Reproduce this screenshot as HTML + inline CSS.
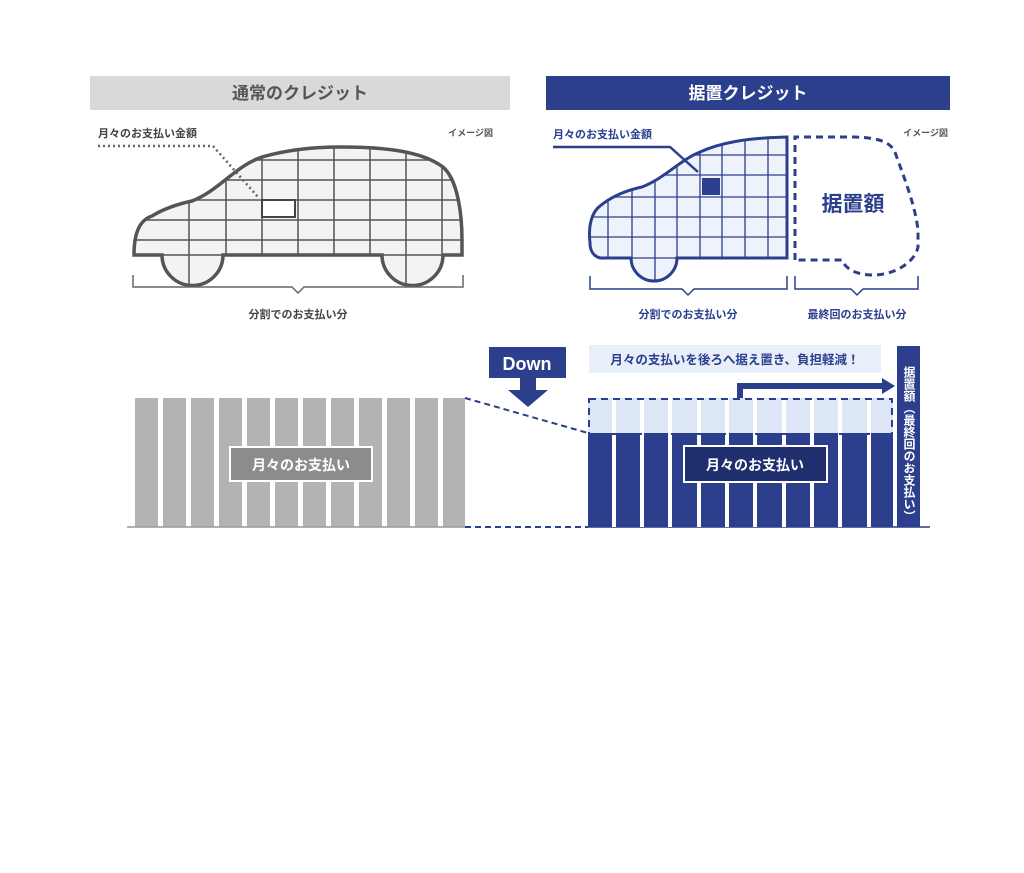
<!DOCTYPE html>
<html><head><meta charset="utf-8"><style>
html,body{margin:0;padding:0;background:#fff;}
svg{display:block;}
text{font-family:"Liberation Sans","Noto Sans CJK JP",sans-serif;font-weight:bold;}
</style></head><body>
<svg width="1024" height="873" viewBox="0 0 1024 873" xmlns="http://www.w3.org/2000/svg">
<defs>
<clipPath id="lc"><path d="M134,255 C134,232 140,220 152,216 C165,208 178,204 192,201 C220,190 235,166 262,157 C290,149 320,147 340,147 C380,147 420,150 443,167 C458,180 462,215 462,240 L462,255 L443,255 A30,30 0 0 1 382,255 L223,255 A30,30 0 0 1 162,255 Z"/></clipPath>
<clipPath id="rc"><path d="M590,243 C588,225 592,212 600,206 C612,196 628,190 642,187 C665,178 680,160 700,152 C720,143 745,138 787,137 L787,258 L677,258 A23,23 0 0 1 631,258 L600,258 C593,256 590,250 590,243 Z"/></clipPath>
</defs>
<!-- headers -->
<rect x="90" y="76" width="420" height="34" fill="#d9d9d9"/>
<text x="300" y="99" font-size="17" fill="#555" text-anchor="middle">通常のクレジット</text>
<rect x="546" y="76" width="404" height="34" fill="#2b3f8c"/>
<text x="748" y="99" font-size="17" fill="#fff" text-anchor="middle">据置クレジット</text>

<!-- left car -->
<text x="98" y="137" font-size="11" fill="#444">月々のお支払い金額</text>
<text x="493" y="136" font-size="9" fill="#555" text-anchor="end">イメージ図</text>
<g clip-path="url(#lc)">
<rect x="120" y="140" width="360" height="160" fill="#f3f3f3"/>
<g stroke="#555" stroke-width="1.5">
<line x1="189" y1="140" x2="189" y2="300"/><line x1="226" y1="140" x2="226" y2="300"/><line x1="262" y1="140" x2="262" y2="300"/><line x1="298" y1="140" x2="298" y2="300"/><line x1="334" y1="140" x2="334" y2="300"/><line x1="370" y1="140" x2="370" y2="300"/><line x1="406" y1="140" x2="406" y2="300"/><line x1="442" y1="140" x2="442" y2="300"/>
<line x1="120" y1="160" x2="480" y2="160"/><line x1="120" y1="180" x2="480" y2="180"/><line x1="120" y1="200" x2="480" y2="200"/><line x1="120" y1="220" x2="480" y2="220"/><line x1="120" y1="240" x2="480" y2="240"/><line x1="120" y1="255" x2="480" y2="255"/>
</g>
</g>
<path d="M134,255 C134,232 140,220 152,216 C165,208 178,204 192,201 C220,190 235,166 262,157 C290,149 320,147 340,147 C380,147 420,150 443,167 C458,180 462,215 462,240 L462,255 L443,255 A30,30 0 0 1 382,255 L223,255 A30,30 0 0 1 162,255 Z" fill="none" stroke="#555" stroke-width="3.5"/>
<rect x="262" y="200" width="33" height="17" fill="#fff" stroke="#444" stroke-width="2"/>
<path d="M98,146 L213,146 L258,197" fill="none" stroke="#666" stroke-width="2.5" stroke-dasharray="2,3"/>
<path d="M133,275 L133,287 L292,287 L298,293 L304,287 L463,287 L463,275" fill="none" stroke="#666" stroke-width="1.5"/>
<text x="298" y="318" font-size="11" fill="#444" text-anchor="middle">分割でのお支払い分</text>

<!-- right car -->
<text x="553" y="138" font-size="11" fill="#2b3f8c">月々のお支払い金額</text>
<text x="948" y="136" font-size="9" fill="#555" text-anchor="end">イメージ図</text>
<g clip-path="url(#rc)">
<rect x="580" y="130" width="210" height="160" fill="#eef2fb"/>
<g stroke="#2b3f8c" stroke-width="1.3">
<line x1="608" y1="130" x2="608" y2="290"/><line x1="632" y1="130" x2="632" y2="290"/><line x1="655" y1="130" x2="655" y2="290"/><line x1="677" y1="130" x2="677" y2="290"/><line x1="700" y1="130" x2="700" y2="290"/><line x1="722" y1="130" x2="722" y2="290"/><line x1="745" y1="130" x2="745" y2="290"/><line x1="768" y1="130" x2="768" y2="290"/>
<line x1="580" y1="155" x2="790" y2="155"/><line x1="580" y1="175" x2="790" y2="175"/><line x1="580" y1="197" x2="790" y2="197"/><line x1="580" y1="217" x2="790" y2="217"/><line x1="580" y1="237" x2="790" y2="237"/><line x1="580" y1="258" x2="790" y2="258"/>
</g>
</g>
<path d="M590,243 C588,225 592,212 600,206 C612,196 628,190 642,187 C665,178 680,160 700,152 C720,143 745,138 787,137 L787,258 L677,258 A23,23 0 0 1 631,258 L600,258 C593,256 590,250 590,243 Z" fill="none" stroke="#2b3f8c" stroke-width="3"/>
<rect x="702" y="178" width="18" height="17" fill="#2b3f8c"/>
<path d="M553,147 L670,147 L698,172" fill="none" stroke="#2b3f8c" stroke-width="2.5"/>
<path d="M795,260 L795,137 L855,137 C880,138 892,142 896,155 C905,180 915,205 918,230 L918,247 C915,262 895,275 873,275 C855,275 845,268 842,260 Z" fill="none" stroke="#2b3f8c" stroke-width="3" stroke-dasharray="7,5"/>
<text x="853" y="211" font-size="21" fill="#2b3f8c" text-anchor="middle">据置額</text>
<path d="M590,276 L590,289 L682,289 L688,295 L694,289 L787,289 L787,276" fill="none" stroke="#2b3f8c" stroke-width="1.5"/>
<path d="M795,276 L795,289 L851,289 L857,295 L863,289 L918,289 L918,276" fill="none" stroke="#2b3f8c" stroke-width="1.5"/>
<text x="688" y="318" font-size="11" fill="#2b3f8c" text-anchor="middle">分割でのお支払い分</text>
<text x="857" y="318" font-size="11" fill="#2b3f8c" text-anchor="middle">最終回のお支払い分</text>

<!-- bottom left bars -->
<g fill="#b3b3b3">
<rect x="135" y="398" width="23" height="129"/><rect x="163" y="398" width="23" height="129"/><rect x="191" y="398" width="23" height="129"/><rect x="219" y="398" width="23" height="129"/><rect x="247" y="398" width="23" height="129"/><rect x="275" y="398" width="23" height="129"/><rect x="303" y="398" width="23" height="129"/><rect x="331" y="398" width="23" height="129"/><rect x="359" y="398" width="23" height="129"/><rect x="387" y="398" width="23" height="129"/><rect x="415" y="398" width="23" height="129"/><rect x="443" y="398" width="22" height="129"/>
</g>
<rect x="230" y="447" width="142" height="34" fill="#8c8c8c" stroke="#fff" stroke-width="2"/>
<text x="301" y="470" font-size="14" fill="#fff" text-anchor="middle">月々のお支払い</text>
<line x1="127" y1="527" x2="465" y2="527" stroke="#999" stroke-width="1.5"/>
<line x1="465" y1="527" x2="588" y2="527" stroke="#2b3f8c" stroke-width="2" stroke-dasharray="6,4"/>
<line x1="465" y1="398" x2="588" y2="433" stroke="#2b3f8c" stroke-width="2" stroke-dasharray="6,4"/>
<line x1="588" y1="527" x2="930" y2="527" stroke="#2b3f8c" stroke-width="1.5"/>

<!-- Down -->
<rect x="489" y="347" width="77" height="31" fill="#2b3f8c"/>
<text x="527" y="370" font-size="18" fill="#fff" text-anchor="middle">Down</text>
<path d="M520,378 L536,378 L536,390 L548,390 L528,407 L508,390 L520,390 Z" fill="#2b3f8c"/>
<rect x="589" y="345" width="292" height="28" fill="#e8eefa"/>
<text x="735" y="364" font-size="12.5" fill="#2b3f8c" text-anchor="middle">月々の支払いを後ろへ据え置き、負担軽減！</text>

<!-- right bars -->
<g>
<rect x="588" y="433" width="305" height="94" fill="#2b3f8c"/>
<rect x="588" y="398" width="305" height="35" fill="#dde6f7"/>
<g fill="#fff">
<rect x="612" y="398" width="4" height="129"/><rect x="640" y="398" width="4" height="129"/><rect x="668" y="398" width="4" height="129"/><rect x="697" y="398" width="4" height="129"/><rect x="725" y="398" width="4" height="129"/><rect x="753" y="398" width="4" height="129"/><rect x="782" y="398" width="4" height="129"/><rect x="810" y="398" width="4" height="129"/><rect x="838" y="398" width="4" height="129"/><rect x="867" y="398" width="4" height="129"/>
</g>
<rect x="589" y="399" width="303" height="35" fill="none" stroke="#2b3f8c" stroke-width="2" stroke-dasharray="7,5"/>
</g>
<rect x="684" y="446" width="143" height="36" fill="#1f2f6e" stroke="#fff" stroke-width="2"/>
<text x="755" y="470" font-size="14" fill="#fff" text-anchor="middle">月々のお支払い</text>
<path d="M740,398 L740,386 L884,386" fill="none" stroke="#2b3f8c" stroke-width="6"/>
<path d="M882,378 L895,386 L882,394 Z" fill="#2b3f8c"/>
<rect x="897" y="346" width="23" height="181" fill="#2b3f8c"/>
<text x="909" y="366" font-size="12" fill="#fff" style="writing-mode:tb;glyph-orientation-vertical:0" writing-mode="tb">据置額（最終回のお支払い）</text>
</svg>
</body></html>
